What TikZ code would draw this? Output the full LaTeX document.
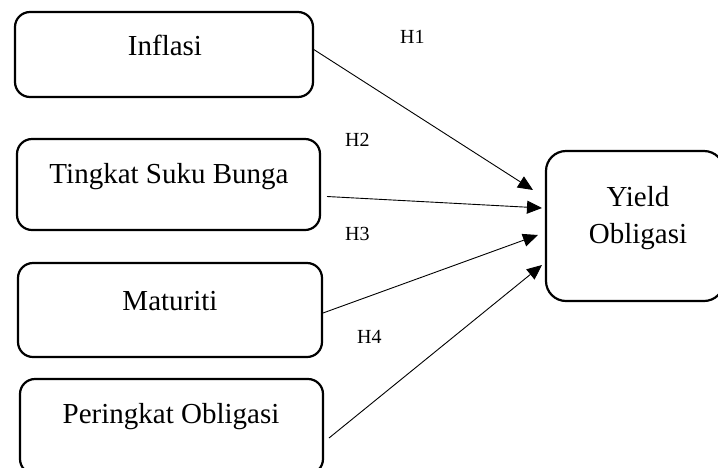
\documentclass[tikz,border=0pt]{standalone}
\usepackage{fontspec}
\setmainfont{Liberation Serif}
\usetikzlibrary{arrows.meta}
\begin{document}
\begin{tikzpicture}[x=1pt,y=-1pt,
  box/.style={draw, line width=2.2pt, rounded corners=15pt, outer sep=0pt, inner sep=0pt, anchor=north west},
  lbl/.style={font=\fontsize{29}{34}\selectfont, inner sep=0pt, anchor=base},
  hyp/.style={font=\fontsize{20}{24}\selectfont, inner sep=0pt, anchor=base west},
  arr/.style={line width=0.9pt, -{Triangle[length=15pt,width=13pt]}}]
\useasboundingbox (0,0) rectangle (718,467);
\clip (0,0) rectangle (718,467);
% boxes
\node[box, minimum width=298pt, minimum height=85pt] (inf) at (15,12) {};
\node[box, minimum width=303pt, minimum height=91pt] (ting) at (17,139) {};
\node[box, minimum width=304pt, minimum height=94pt] (mat) at (18,263) {};
\node[box, minimum width=303pt, minimum height=95pt] (per) at (20,379) {};
\node[box, minimum width=178pt, minimum height=150pt, rounded corners=20pt] (yield) at (546,151) {};
% texts
\node[lbl] (tinf) at (165,55) {Inflasi};
\node[lbl] (tting) at (169,183) {Tingkat Suku Bunga};
\node[lbl] (tmat) at (170,310) {Maturiti};
\node[lbl] (tper) at (171,423) {Peringkat Obligasi};
\node[lbl] (ty1) at (638,206) {Yield};
\node[lbl] (ty2) at (638,243) {Obligasi};
% hypotheses
\node[hyp] (h1) at (400,43) {H1};
\node[hyp] (h2) at (345,146) {H2};
\node[hyp] (h3) at (345,240) {H3};
\node[hyp] (h4) at (357,343) {H4};
% arrow tips
\coordinate (t1) at (533,190);
\coordinate (t2) at (542,208);
\coordinate (t3) at (538,235);
\coordinate (t4) at (542,265);
\draw[arr] ([yshift=5.5pt]inf.east) -- (t1);
\draw[arr] ([shift={(7pt,-12pt)}]ting.east) -- (t2);
\draw[arr] ([shift={(1pt,-3pt)}]mat.east) -- (t3);
\draw[arr] ([shift={(6pt,-11.5pt)}]per.east) -- (t4);
\end{tikzpicture}
\end{document}
